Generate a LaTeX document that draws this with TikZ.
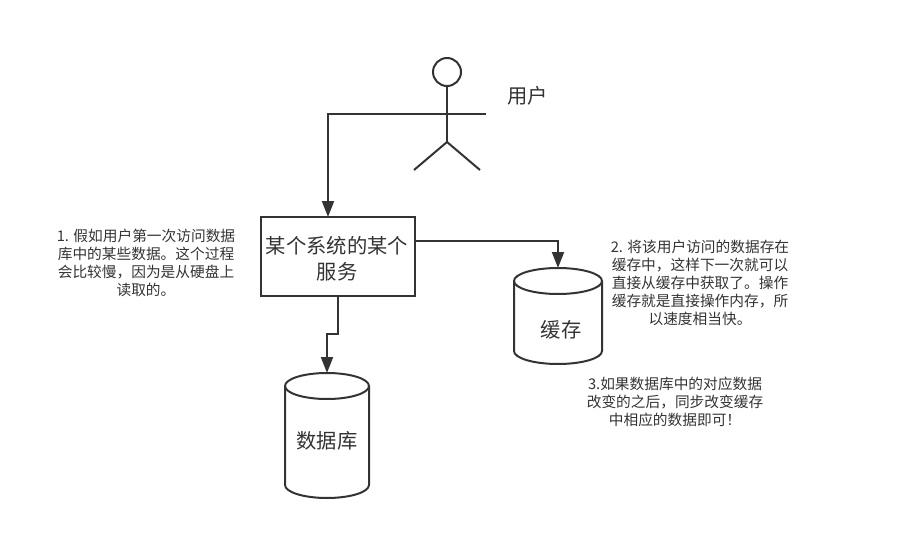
\documentclass[tikz,border=0pt]{standalone}
\usepackage{fontspec}
\setmainfont{Noto Sans CJK SC}[BoldFont=Noto Sans CJK SC]
\usetikzlibrary{arrows.meta}
\definecolor{inkgray}{HTML}{333333}
\tikzset{
    line/.style={draw=inkgray, line width=2pt},
    conn/.style={line, -{Triangle[width=12pt,length=16pt]}},
    caption/.style={align=center, text=inkgray, inner sep=0pt, font=\fontsize{20.3}{26}\selectfont},
    note/.style={align=center, text=inkgray, inner sep=0pt, font=\fontsize{14.7}{18}\selectfont}
}
% имя, центр x, верх, радиус, низ
\newcommand{\drumshape}[5]{
    \coordinate (#1) at (#2,#3);
    \draw[line, line join=round] (#2-#4,#3+13) arc[start angle=180, end angle=0, x radius=#4pt, y radius=13pt]
        -- (#2+#4,#5-13) arc[start angle=0, end angle=-180, x radius=#4pt, y radius=13pt] -- cycle;
    \draw[line] (#2-#4,#3+13) arc[start angle=180, end angle=360, x radius=#4pt, y radius=13pt];
}
\begin{document}
\begin{tikzpicture}[x=1pt, y=-1pt]
    \useasboundingbox (0,0) rectangle (914,546);

    % Человечек
    \node[line, circle, minimum size=28pt, inner sep=0pt, outer sep=0pt] (head) at (447,72) {};
    \coordinate (hip) at (447,142);
    \coordinate (handL) at (407,114);
    \coordinate (handR) at (486,114);
    \coordinate (footL) at (414,170);
    \coordinate (footR) at (480,170);
    \draw[line] (head.south) -- (hip);
    \draw[line] (handL) -- (handR);
    \draw[line] (footL) -- (hip) -- (footR);
    \node[caption] (user) at (527.5,96) {用户};

    % Сервис и хранилища
    \node[line, minimum width=154pt, minimum height=79pt, outer sep=0pt] (service) at (338,256.5) {};
    \node[caption] (serviceText) at (337,259) {某个系统的某个\\服务};
    \drumshape{db}{327}{373}{42}{498}
    \node[caption] (dbText) at (327,441) {数据库};
    \drumshape{cache}{558}{268}{44}{364}
    \node[caption] (cacheText) at (561,330) {缓存};

    % Соединения
    \coordinate (svcIn) at (service.north -| 328,0);
    \draw[conn] (handL) -- (328,114) -- (svcIn);
    \coordinate (svcOut) at (415,241);
    \draw[conn] (svcOut) -- (558,241) -- (cache);
    \draw[conn] (service.south) -- (338,334) -- (327,334) -- (db);

    % Пояснения
    \node[note] (noteA) at (146,263) {1. 假如用户第一次访问数据\\库中的某些数据。这个过程\\会比较慢，因为是从硬盘上\\读取的。};
    \node[note] (noteB) at (700,283) {2. 将该用户访问的数据存在\\缓存中，这样下一次就可以\\直接从缓存中获取了。操作\\缓存就是直接操作内存，所\\以速度相当快。};
    \node[note] (noteC) at (675,402) {3.如果数据库中的对应数据\\改变的之后，同步改变缓存\\中相应的数据即可！};
\end{tikzpicture}
\end{document}
